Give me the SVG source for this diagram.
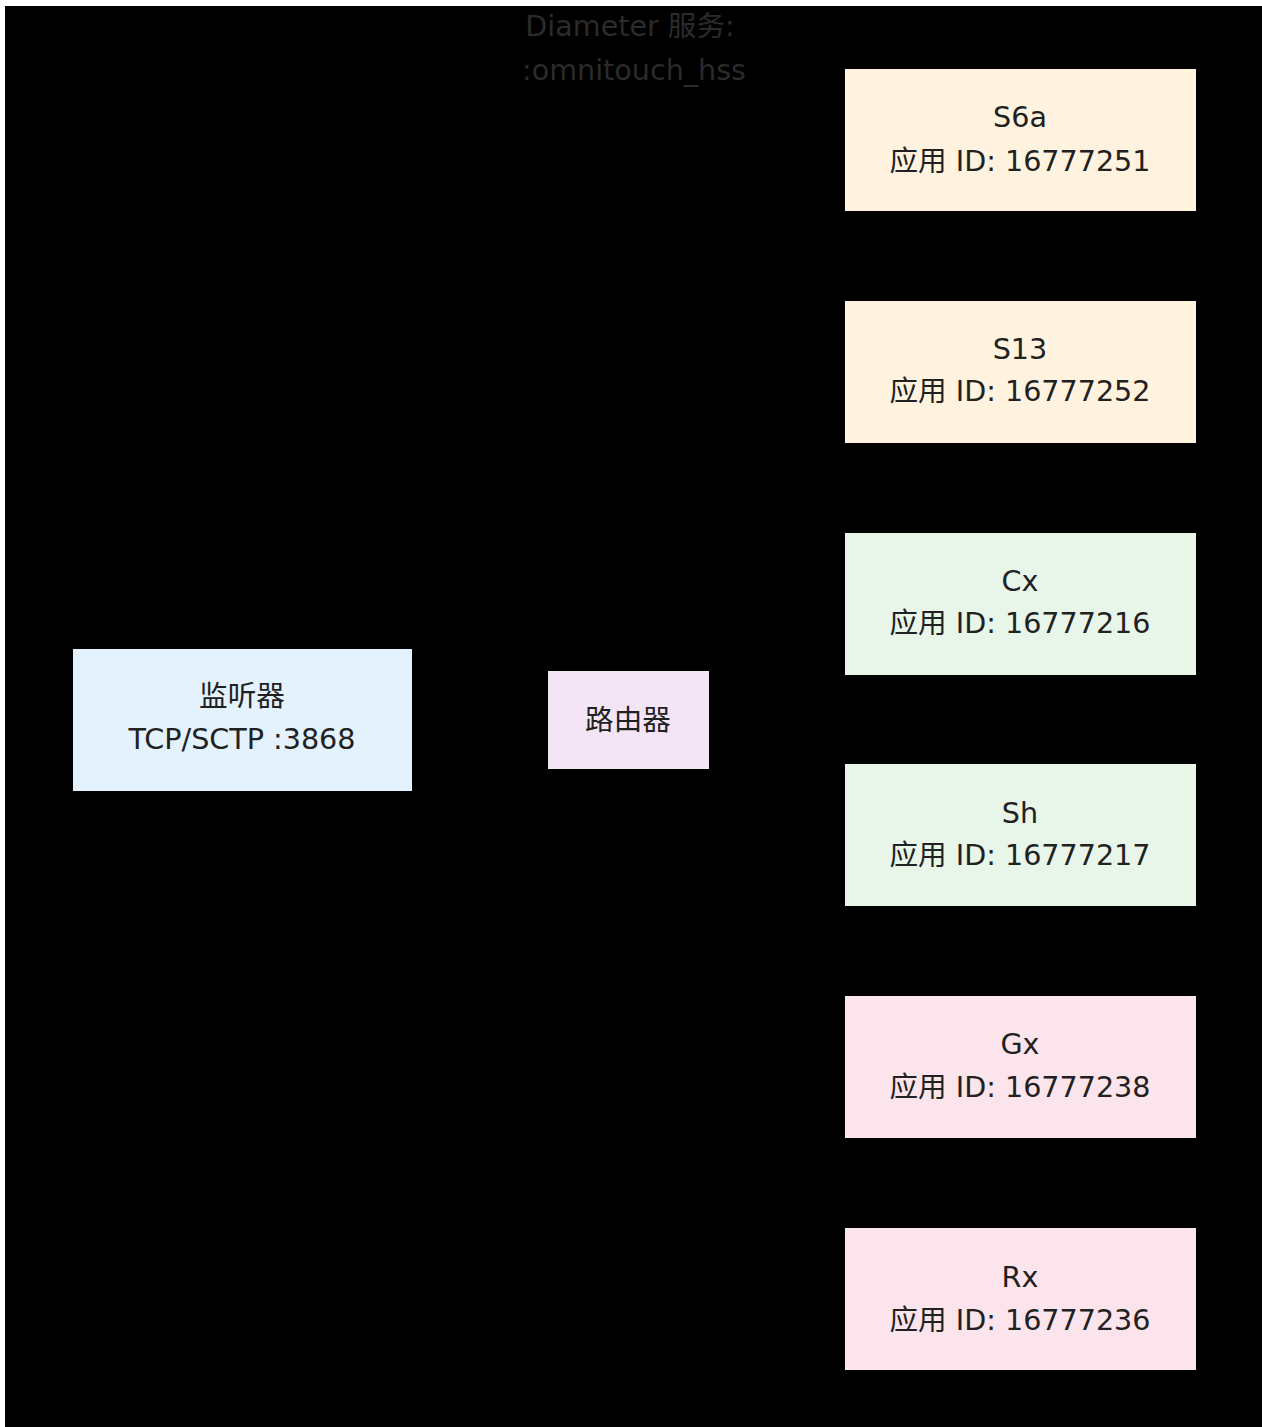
<svg xmlns="http://www.w3.org/2000/svg" width="1262" height="1427" viewBox="0 0 1262 1427">
<defs>
<marker id="arr" viewBox="0 0 10 10" refX="10" refY="5" markerWidth="8" markerHeight="8" orient="auto"><path d="M0,0 L10,5 L0,10 z" fill="#000"/></marker>
<style>
text{font-family:"DejaVu Sans","Noto Sans CJK SC",sans-serif;font-size:28.6px;fill:#212121;text-anchor:middle}
.title{fill:#2b2b2b}
.edge{fill:none;stroke:#000;stroke-width:2;marker-end:url(#arr)}
.l{fill:#e3f2fd}.r{fill:#f3e5f5}.o{fill:#fff3e0}.g{fill:#e8f5e9}.p{fill:#fce4ec}
</style>
</defs>
<rect width="1262" height="1427" fill="#fff"/>
<g id="cluster">
<rect x="5" y="6" width="1257" height="1421" fill="#000"/>
<text class="title" x="630" y="36">Diameter 服务:</text>
<text class="title" x="634" y="80">:omnitouch_hss</text>
</g>
<g id="connectors">
<path class="edge" d="M412,720 L548,720"/>
<path class="edge" d="M709,700 C780,500 780,140 845,140"/>
<path class="edge" d="M709,705 C780,550 780,372 845,372"/>
<path class="edge" d="M709,712 C780,650 780,604 845,604"/>
<path class="edge" d="M709,728 C780,790 780,835 845,835"/>
<path class="edge" d="M709,735 C780,900 780,1067 845,1067"/>
<path class="edge" d="M709,740 C780,950 780,1299 845,1299"/>
</g>
<g id="listener"><rect class="l" x="73" y="649" width="339" height="142"/><text x="242" y="706">监听器</text><text x="242" y="749">TCP/SCTP :3868</text></g>
<g id="router"><rect class="r" x="548" y="671" width="161" height="98"/><text x="628" y="730">路由器</text></g>
<g id="s6a"><rect class="o" x="845" y="69" width="351" height="142"/><text x="1020" y="127">S6a</text><text x="1020" y="171">应用 ID: 16777251</text></g>
<g id="s13"><rect class="o" x="845" y="301" width="351" height="142"/><text x="1020" y="359">S13</text><text x="1020" y="401">应用 ID: 16777252</text></g>
<g id="cx"><rect class="g" x="845" y="533" width="351" height="142"/><text x="1020" y="591">Cx</text><text x="1020" y="633">应用 ID: 16777216</text></g>
<g id="sh"><rect class="g" x="845" y="764" width="351" height="142"/><text x="1020" y="823">Sh</text><text x="1020" y="865">应用 ID: 16777217</text></g>
<g id="gx"><rect class="p" x="845" y="996" width="351" height="142"/><text x="1020" y="1054">Gx</text><text x="1020" y="1097">应用 ID: 16777238</text></g>
<g id="rx"><rect class="p" x="845" y="1228" width="351" height="142"/><text x="1020" y="1287">Rx</text><text x="1020" y="1330">应用 ID: 16777236</text></g>
</svg>
